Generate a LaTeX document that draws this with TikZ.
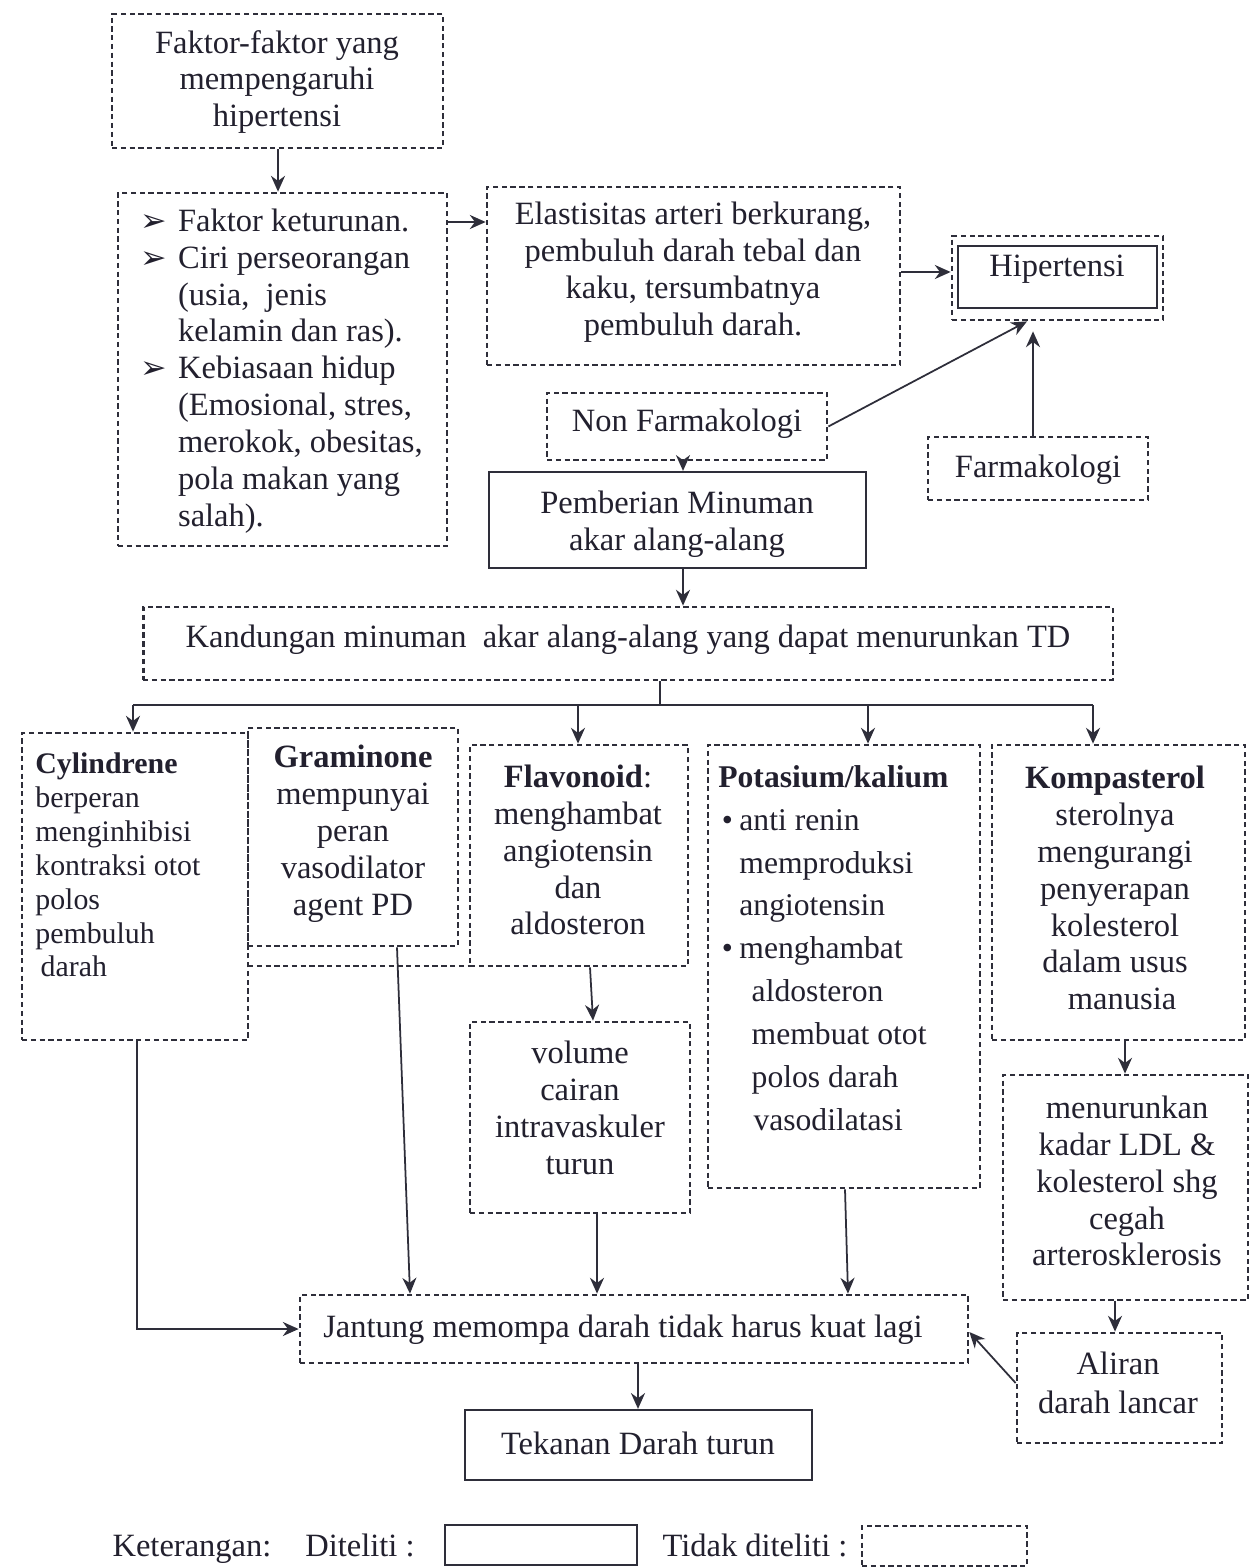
\documentclass[tikz,border=0pt]{standalone}
\usepackage{fontspec}
\setmainfont{Liberation Serif}
\newfontfamily\dejavu{DejaVu Sans}
\usetikzlibrary{arrows.meta,calc}
\definecolor{ink}{HTML}{22202E}
\definecolor{edge}{HTML}{2E2E3A}
\newcommand\mybul{\makebox[21.5pt][l]{\dejavu\fontsize{18}{18}\selectfont ➢}}
\newcommand\myind{\hspace*{21.5pt}}
\begin{document}
\begin{tikzpicture}[x=0.02cm,y=-0.02cm,
 dbox/.style={draw=edge, line width=1.6pt, dash pattern=on 3pt off 2pt, inner sep=0},
 sbox/.style={draw=edge, line width=1.3pt, inner sep=0},
 txt/.style={inner sep=0, text=ink, font=\fontsize{18.5}{21}\selectfont, align=center},
 arr/.style={draw=edge, line width=1pt, -{Stealth[length=9pt,width=8pt]}},
 ln/.style={draw=edge, line width=1pt},
 dln/.style={draw=edge, line width=1.6pt, dash pattern=on 3pt off 2pt}]
\useasboundingbox (0,0) rectangle (1251,1567);
\fill[white] (0,0) rectangle (1251,1567);

% top
\node[dbox, minimum width=6.62cm, minimum height=2.68cm] (fak) at (277.5,81) {};
\node[txt] (fakt) at (277,82) {Faktor-faktor yang\\mempengaruhi\\hipertensi};

\node[dbox, minimum width=6.58cm, minimum height=7.06cm] (lst) at (282.5,369.5) {};
\node[txt, align=left, anchor=west] (lstt) at (140,371) {\mybul Faktor keturunan.\\ \mybul Ciri perseorangan\\ \myind(usia,\ \ jenis\\ \myind kelamin dan ras).\\ \mybul Kebiasaan hidup\\ \myind(Emosional, stres,\\ \myind merokok, obesitas,\\ \myind pola makan yang\\ \myind salah).};

\node[dbox, minimum width=8.26cm, minimum height=3.56cm] (elas) at (693.5,276) {};
\node[txt] (elast) at (693,272) {Elastisitas arteri berkurang,\\pembuluh darah tebal dan\\kaku, tersumbatnya\\pembuluh darah.};

\node[dbox, minimum width=4.22cm, minimum height=1.68cm] (hipo) at (1057.5,278) {};
\node[sbox, minimum width=3.98cm, minimum height=1.24cm] (hip) at (1057.5,277) {};
\node[txt] (hipt) at (1057,269) {Hipertensi};

\node[dbox, minimum width=5.6cm, minimum height=1.34cm] (nonf) at (687,426.5) {};
\node[txt] (nonft) at (687,424) {Non Farmakologi};

\node[dbox, minimum width=4.4cm, minimum height=1.26cm] (farm) at (1038,468.5) {};
\node[txt] (farmt) at (1038,470) {Farmakologi};

\node[sbox, minimum width=7.54cm, minimum height=1.92cm] (pemb) at (677.5,520) {};
\node[txt] (pembt) at (677,524) {Pemberian Minuman\\akar alang-alang};

\node[dbox, minimum width=19.4cm, minimum height=1.46cm] (kand) at (628,643.5) {};
\node[txt] (kandt) at (628,640) {Kandungan minuman\ \ akar alang-alang yang dapat menurunkan TD};

% second row
\node[dbox, minimum width=4.52cm, minimum height=6.14cm] (cyl) at (135,886.5) {};
\node[txt, align=left, anchor=west, font=\fontsize{17}{19.3}\selectfont] (cylt) at (35,865) {\textbf{Cylindrene}\\berperan\\menginhibisi\\kontraksi otot\\polos\\pembuluh\\\hspace*{3pt}darah};

\node[dbox, minimum width=4.2cm, minimum height=4.36cm] (gram) at (353,837) {};
\node[txt] (gramt) at (353,834) {\textbf{Graminone}\\mempunyai\\peran\\vasodilator\\agent PD};
\draw[dln] (248,966) -- (470,966);

\node[dbox, minimum width=4.36cm, minimum height=4.42cm] (flav) at (579,855.5) {};
\node[txt] (flavt) at (578,850) {\textbf{Flavonoid}:\\menghambat\\angiotensin\\dan\\aldosteron};

\node[dbox, minimum width=5.44cm, minimum height=8.86cm] (pot) at (844,966.5) {};
\node[txt, align=left, anchor=west, font=\fontsize{18}{24.4}\selectfont] (pott) at (718,948) {\textbf{Potasium/kalium}\\ \hspace*{2pt}\makebox[10pt][l]{•}anti renin\\ \hspace*{12pt}memproduksi\\ \hspace*{12pt}angiotensin\\ \hspace*{2pt}\makebox[10pt][l]{•}menghambat\\ \hspace*{19pt}aldosteron\\ \hspace*{19pt}membuat otot\\ \hspace*{19pt}polos darah\\ \hspace*{20pt}vasodilatasi};

\node[dbox, minimum width=5.06cm, minimum height=5.9cm] (komp) at (1118.5,892.5) {};
\node[txt] (kompt) at (1115,888) {\textbf{Kompasterol}\\sterolnya\\mengurangi\\penyerapan\\kolesterol\\dalam usus\\\hspace*{8pt}manusia};

\node[dbox, minimum width=4.9cm, minimum height=4.5cm] (menu) at (1125.5,1187.5) {};
\node[txt] (menut) at (1127,1181) {menurunkan\\kadar LDL \&\\kolesterol shg\\cegah\\arterosklerosis};

\node[dbox, minimum width=4.4cm, minimum height=3.82cm] (vol) at (580,1117.5) {};
\node[txt] (volt) at (580,1108) {volume\\cairan\\intravaskuler\\turun};

\node[dbox, minimum width=4.1cm, minimum height=2.2cm] (alir) at (1119.5,1388) {};
\node[txt, font=\fontsize{18.5}{22}\selectfont] (alirt) at (1118,1383) {Aliran\\darah lancar};

\node[dbox, minimum width=13.36cm, minimum height=1.36cm] (jant) at (634,1329) {};
\node[txt] (jantt) at (623,1330) {Jantung memompa darah tidak harus kuat lagi};

\node[sbox, minimum width=6.94cm, minimum height=1.4cm] (tek) at (638.5,1445) {};
\node[txt] (tekt) at (638,1443) {Tekanan Darah turun};

% legend
\node[txt, anchor=base] (ket) at (192,1556) {Keterangan:};
\node[txt, anchor=base] (dit) at (360,1556) {Diteliti :};
\node[sbox, minimum width=3.84cm, minimum height=0.8cm] (legs) at (541,1545) {};
\node[txt, anchor=base] (tdit) at (755,1556) {Tidak diteliti :};
\node[dbox, minimum width=3.3cm, minimum height=0.8cm] (legd) at (944.5,1546) {};

% connectors
\draw[arr] (fak.south -| 278,0) -- (lst.north -| 278,0);
\draw[arr] (lst.east |- 0,222) -- (elas.west |- 0,222);
\draw[arr] (elas.east |- 0,272) -- (hipo.west |- 0,272);
\draw[arr] (nonf.east) -- (hipo.south -| 1027,0);
\draw[arr, shorten >=0.2cm] (farm.north -| 1033,0) -- (hipo.south -| 1033,0);
\draw[arr] (nonf.south -| 683,0) -- (pemb.north -| 683,0);
\draw[arr] (pemb.south -| 683,0) -- (kand.north -| 683,0);
\coordinate (split) at (660,705);
\draw[ln] (kand.south -| split) -- (split);
\draw[ln] (133,705) -- (1093,705);
\draw[arr] (133,705) -- (cyl.north -| 133,0);
\draw[arr] (578,705) -- (flav.north -| 578,0);
\draw[arr] (868,705) -- (pot.north -| 868,0);
\draw[arr] (1093,705) -- (komp.north -| 1093,0);
\draw[arr] (gram.south -| 397,0) -- (jant.north -| 410,0);
\draw[arr] (flav.south -| 590,0) -- (vol.north -| 593,0);
\draw[arr] (vol.south -| 597,0) -- (jant.north -| 597,0);
\draw[arr] (pot.south -| 845,0) -- (jant.north -| 848,0);
\draw[arr] (cyl.south -| 137,0) |- (jant.west);
\draw[arr] (komp.south -| 1125,0) -- (menu.north -| 1125,0);
\draw[arr] (menu.south -| 1115,0) -- (alir.north -| 1115,0);
\draw[arr] (alir.west |- 0,1383) -- (jant.east |- 0,1332);
\draw[arr] (jant.south -| 638,0) -- (tek.north -| 638,0);
\end{tikzpicture}
\end{document}
